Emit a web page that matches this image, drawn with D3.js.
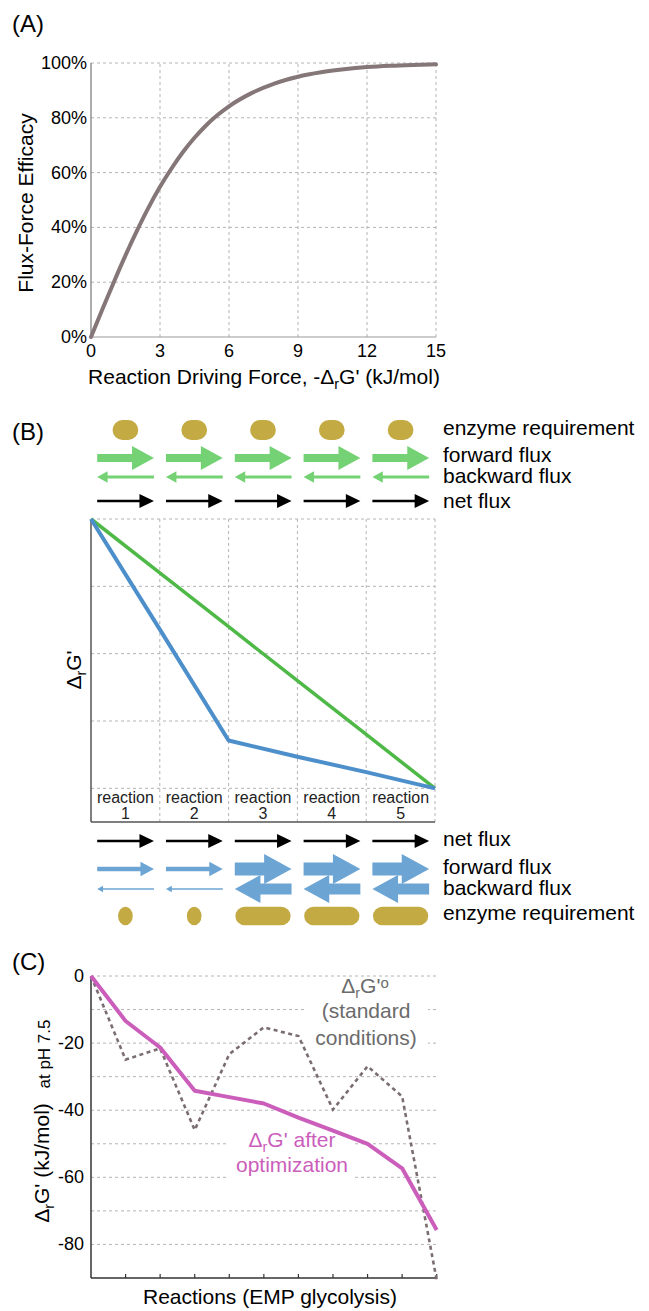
<!DOCTYPE html>
<html>
<head>
<meta charset="utf-8">
<script src="https://cdn.jsdelivr.net/npm/d3@7"></script>
<style>
  body { margin: 0; background: #fff; }
  svg { display: block; font-family: "Liberation Sans", Arial, sans-serif; }
</style>
</head>
<body>
<div id="fig"></div>
<script>
// ---- panel A: flux-force efficacy curve
const forceVals = [0, 0.5, 1, 1.5, 2, 2.5, 3, 3.5, 4, 4.5, 5, 5.5, 6, 7, 8, 9, 10, 11, 12, 13, 14, 15];
const efficacyVals = [0, 0.102, 0.202, 0.298, 0.388, 0.472, 0.548, 0.615, 0.675, 0.727, 0.772, 0.81, 0.842, 0.891, 0.926, 0.95, 0.966, 0.977, 0.985, 0.99, 0.993, 0.995];
const forceTicks = [0, 3, 6, 9, 12, 15];
const efficacyTicks = [0, 0.2, 0.4, 0.6, 0.8, 1];

// ---- panel B: toy pathway
const reactions = ["1", "2", "3", "4", "5"];
const stepIndex = [0, 1, 2, 3, 4, 5];
const greenProfile = [4, 3.2, 2.4, 1.6, 0.8, 0];
const blueProfile = [4, 2.36, 0.71, 0.47, 0.24, 0];
const greenForward = [2.5, 2.5, 2.5, 2.5, 2.5];
const greenBackward = [1, 1, 1, 1, 1];
const blueForward = [1.4, 1.4, 4, 4, 4];
const blueBackward = [0.4, 0.4, 3.4, 3.4, 3.4];
const netFlux = [1, 1, 1, 1, 1];
const enzymeTop = [1, 1, 1, 1, 1];
const enzymeBottom = [0.57, 0.57, 2.15, 2.15, 2.15];

// ---- panel C: EMP glycolysis
const reactionSteps = [0, 1, 2, 3, 4, 5, 6, 7, 8, 9, 10];
const optimizedG = [0, -13.4, -21.3, -34.2, -36.1, -38.0, -42.2, -46.1, -50.0, -57.3, -75.7];
const standardG = [0, -24.9, -21.6, -45.9, -23.3, -15.3, -17.9, -39.8, -26.9, -35.9, -90.6];
const gTicks = [0, -20, -40, -60, -80];
const gGrid = [0, -10, -20, -30, -40, -50, -60, -70, -80];

const W = 649, H = 1311;
const svg = d3.select("#fig").append("svg").attr("width", W).attr("height", H);

const gridColor = "#b4b4b4";
const gold = "#c3aa43";

// text with a subscript r after the delta
function deltaText(sel, rest, size) {
  sel.append("tspan").text("\u0394");
  sel.append("tspan").text("r").attr("font-size", size * 0.68).attr("dy", size * 0.25);
  sel.append("tspan").text(rest).attr("dy", -size * 0.25);
}

function panelLabel(txt, y) {
  svg.append("text").attr("x", 12).attr("y", y).attr("font-size", 24).text(txt);
}

// ===================== (A) =====================
panelLabel("(A)", 32);
const xA = d3.scaleLinear().domain([0, 15]).range([91, 436]);
const yA = d3.scaleLinear().domain([0, 1]).range([337, 63]);
const gA = svg.append("g");

gA.append("g").selectAll("line").data(forceTicks.slice(1)).join("line")
  .attr("x1", d => xA(d)).attr("x2", d => xA(d)).attr("y1", yA(0)).attr("y2", yA(1))
  .attr("stroke", gridColor).attr("stroke-dasharray", "3,3");
gA.append("g").selectAll("line").data(efficacyTicks.slice(1)).join("line")
  .attr("x1", xA(0)).attr("x2", xA(15)).attr("y1", d => yA(d)).attr("y2", d => yA(d))
  .attr("stroke", gridColor).attr("stroke-dasharray", "3,3");

gA.append("line").attr("x1", xA(0)).attr("x2", xA(0)).attr("y1", yA(0)).attr("y2", yA(1))
  .attr("stroke", "#777").attr("stroke-width", 1.2);
gA.append("line").attr("x1", xA(0)).attr("x2", xA(15)).attr("y1", yA(0)).attr("y2", yA(0))
  .attr("stroke", "#999").attr("stroke-width", 1);

gA.append("g").selectAll("text").data(efficacyTicks).join("text")
  .attr("x", xA(0) - 4).attr("y", d => yA(d) + 6).attr("text-anchor", "end")
  .attr("font-size", 18).text(d => Math.round(d * 100) + "%");
gA.append("g").selectAll("text").data(forceTicks).join("text")
  .attr("x", d => xA(d)).attr("y", 357).attr("text-anchor", "middle")
  .attr("font-size", 18).text(d => d);

const lineA = d3.line().x((d, i) => xA(forceVals[i])).y(d => yA(d)).curve(d3.curveMonotoneX);
gA.append("path").attr("d", lineA(efficacyVals)).attr("fill", "none")
  .attr("stroke", "#857678").attr("stroke-width", 4).attr("stroke-linecap", "round");

const xlabA = gA.append("text").attr("x", 264).attr("y", 384).attr("text-anchor", "middle").attr("font-size", 21);
xlabA.append("tspan").text("Reaction Driving Force, -");
deltaText(xlabA, "G' (kJ/mol)", 21);
gA.append("text").attr("transform", "translate(33,203) rotate(-90)")
  .attr("text-anchor", "middle").attr("font-size", 21).text("Flux-Force Efficacy");

// ===================== (B) =====================
panelLabel("(B)", 440);
const xB = d3.scaleLinear().domain([0, 5]).range([91, 435]);
const yB = d3.scaleLinear().domain([-0.5, 4]).range([822, 519]);
const band = d3.scaleBand().domain(reactions).range([91, 435]);
const bw = band.bandwidth();
const fluxW = d3.scaleLinear().domain([0, 1]).range([0, 3.2]);
const enzW = d3.scaleLinear().domain([0, 1]).range([0, 25.7]);
const gB = svg.append("g");

function arrowPoints(x1, x2, y, w, hh, hl) {
  const dir = x2 > x1 ? 1 : -1;
  const xb = x2 - dir * hl;
  return [[x1, y - w / 2], [xb, y - w / 2], [xb, y - hh / 2], [x2, y],
          [xb, y + hh / 2], [xb, y + w / 2], [x1, y + w / 2]];
}
function fluxArrows(vals, y, color, forward) {
  gB.append("g").selectAll("polygon").data(vals).join("polygon")
    .attr("fill", color)
    .attr("points", (d, i) => {
      const x0 = band(reactions[i]);
      const a = x0 + bw * 0.09, b = x0 + bw * 0.915;
      const w = fluxW(d);
      const hh = Math.min(2.6 * w + 3, w + 17);
      return arrowPoints(forward ? a : b, forward ? b : a, y, w, hh, hh * 0.92).join(" ");
    });
}
function netArrows(y) {
  gB.append("g").selectAll("polygon").data(netFlux).join("polygon")
    .attr("fill", "#000")
    .attr("points", (d, i) => {
      const x0 = band(reactions[i]);
      return arrowPoints(x0 + bw * 0.09, x0 + bw * 0.915, y, fluxW(d) * 0.8, 14, 14.5).join(" ");
    });
}
function enzymes(vals, y, h) {
  gB.append("g").selectAll("rect").data(vals).join("rect")
    .attr("fill", gold)
    .attr("x", (d, i) => band(reactions[i]) + bw / 2 - enzW(d) / 2)
    .attr("width", d => enzW(d))
    .attr("y", y - h / 2).attr("height", h)
    .attr("rx", d => Math.min(enzW(d), h) / 2).attr("ry", h / 2);
}
function sideLabels(items) {
  gB.append("g").selectAll("text").data(items).join("text")
    .attr("x", 443).attr("y", d => d[1]).attr("font-size", 21).text(d => d[0]);
}

// top (green) pathway
enzymes(enzymeTop, 430, 20);
fluxArrows(greenForward, 458, "#74d174", true);
fluxArrows(greenBackward, 477, "#74d174", false);
netArrows(501);
sideLabels([["enzyme requirement", 435], ["forward flux", 462], ["backward flux", 483], ["net flux", 508]]);

// chart grid
gB.append("g").selectAll("line").data(stepIndex.slice(1)).join("line")
  .attr("x1", d => xB(d)).attr("x2", d => xB(d)).attr("y1", yB(4)).attr("y2", yB(-0.5))
  .attr("stroke", gridColor).attr("stroke-dasharray", "3,3");
gB.append("g").selectAll("line").data([0, 1, 2, 3, 4]).join("line")
  .attr("x1", xB(0)).attr("x2", xB(5)).attr("y1", d => yB(d)).attr("y2", d => yB(d))
  .attr("stroke", gridColor).attr("stroke-dasharray", "3,3");
gB.append("line").attr("x1", xB(0)).attr("x2", xB(0)).attr("y1", yB(4)).attr("y2", yB(-0.5))
  .attr("stroke", "#555").attr("stroke-width", 1.5);
gB.append("line").attr("x1", xB(0)).attr("x2", xB(5)).attr("y1", yB(-0.5)).attr("y2", yB(-0.5))
  .attr("stroke", "#555").attr("stroke-width", 1.5);

const lineB = d3.line().x((d, i) => xB(stepIndex[i])).y(d => yB(d));
gB.append("path").attr("d", lineB(greenProfile)).attr("fill", "none")
  .attr("stroke", "#4fb947").attr("stroke-width", 3.5);
gB.append("path").attr("d", lineB(blueProfile)).attr("fill", "none")
  .attr("stroke", "#4d8fca").attr("stroke-width", 4).attr("stroke-linejoin", "round");

const rl = gB.append("g").selectAll("text").data(reactions).join("text")
  .attr("x", d => band(d) + bw / 2).attr("text-anchor", "middle")
  .attr("font-size", 16).attr("fill", "#222");
rl.append("tspan").attr("x", d => band(d) + bw / 2).attr("y", 803).text("reaction");
rl.append("tspan").attr("x", d => band(d) + bw / 2).attr("y", 819).text(d => d);

const ylabB = gB.append("text").attr("transform", "translate(81,670) rotate(-90)")
  .attr("text-anchor", "middle").attr("font-size", 21);
deltaText(ylabB, "G'", 21);

// bottom (blue) pathway
netArrows(841);
fluxArrows(blueForward, 869, "#6ca4d3", true);
fluxArrows(blueBackward, 889, "#6ca4d3", false);
enzymes(enzymeBottom, 916, 18.7);
sideLabels([["net flux", 846], ["forward flux", 874], ["backward flux", 895], ["enzyme requirement", 920]]);

// ===================== (C) =====================
panelLabel("(C)", 970);
const xC = d3.scaleLinear().domain([0, 10]).range([91, 436.7]);
const yC = d3.scaleLinear().domain([-90, 0]).range([1278, 976]);
const gC = svg.append("g");

gC.append("g").selectAll("line").data(gGrid).join("line")
  .attr("x1", xC(0)).attr("x2", xC(10)).attr("y1", d => yC(d)).attr("y2", d => yC(d))
  .attr("stroke", gridColor).attr("stroke-dasharray", "3,3");

// white boxes behind the in-plot labels
gC.append("rect").attr("x", 305).attr("y", 984).attr("width", 123).attr("height", 68).attr("fill", "#fff");
gC.append("rect").attr("x", 229).attr("y", 1128).attr("width", 126).attr("height", 56).attr("fill", "#fff");

gC.append("line").attr("x1", xC(0)).attr("x2", xC(0)).attr("y1", yC(0)).attr("y2", yC(-90))
  .attr("stroke", "#333").attr("stroke-width", 1.5);
gC.append("line").attr("x1", xC(0)).attr("x2", xC(10)).attr("y1", yC(-90)).attr("y2", yC(-90))
  .attr("stroke", "#333").attr("stroke-width", 1.5);
gC.append("g").selectAll("line").data(reactionSteps.slice(1)).join("line")
  .attr("x1", d => xC(d)).attr("x2", d => xC(d)).attr("y1", yC(-90)).attr("y2", yC(-90) - 4)
  .attr("stroke", "#333").attr("stroke-width", 1.2);
gC.append("g").selectAll("text").data(gTicks).join("text")
  .attr("x", xC(0) - 7).attr("y", d => yC(d) + 6).attr("text-anchor", "end")
  .attr("font-size", 18).text(d => d);

const lineC = d3.line().x((d, i) => xC(reactionSteps[i])).y(d => yC(d));
gC.append("path").attr("d", lineC(standardG)).attr("fill", "none")
  .attr("stroke", "#7b6e71").attr("stroke-width", 2.6).attr("stroke-dasharray", "4,3.5");
gC.append("path").attr("d", lineC(optimizedG)).attr("fill", "none")
  .attr("stroke", "#cb5ebb").attr("stroke-width", 4).attr("stroke-linejoin", "round");

// labels in the plot
const stdLab = gC.append("text").attr("x", 365).attr("y", 993).attr("text-anchor", "middle")
  .attr("font-size", 21).attr("fill", "#6b6b6b");
deltaText(stdLab, "G'", 21);
stdLab.append("tspan").text("o").attr("font-size", 15).attr("dy", -5);
gC.append("text").attr("x", 366).attr("y", 1018).attr("text-anchor", "middle")
  .attr("font-size", 21).attr("fill", "#6b6b6b").text("(standard");
gC.append("text").attr("x", 366).attr("y", 1045).attr("text-anchor", "middle")
  .attr("font-size", 21).attr("fill", "#6b6b6b").text("conditions)");

const optLab = gC.append("text").attr("x", 292).attr("y", 1147).attr("text-anchor", "middle")
  .attr("font-size", 21).attr("fill", "#cb5ebb");
deltaText(optLab, "G' after", 21);
gC.append("text").attr("x", 292).attr("y", 1172).attr("text-anchor", "middle")
  .attr("font-size", 21).attr("fill", "#cb5ebb").text("optimization");

gC.append("text").attr("x", 270).attr("y", 1304).attr("text-anchor", "middle")
  .attr("font-size", 21).text("Reactions (EMP glycolysis)");
const ylabC = gC.append("text").attr("transform", "translate(49,1163) rotate(-90)")
  .attr("text-anchor", "middle").attr("font-size", 21);
deltaText(ylabC, "G' (kJ/mol)", 21);
gC.append("text").attr("transform", "translate(50,1054) rotate(-90)")
  .attr("text-anchor", "middle").attr("font-size", 17).text("at pH 7.5");
</script>
</body>
</html>
